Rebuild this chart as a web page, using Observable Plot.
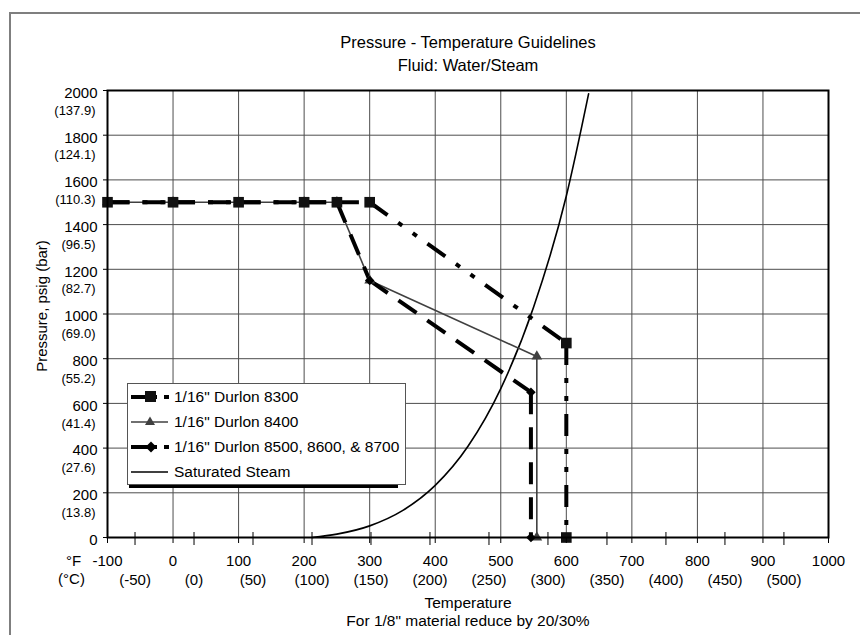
<!DOCTYPE html>
<html><head><meta charset="utf-8">
<script src="https://cdn.jsdelivr.net/npm/d3@7"></script>
<script src="https://cdn.jsdelivr.net/npm/@observablehq/plot@0.6"></script>
<style>
body{margin:0;background:#fff;overflow:hidden}
#wrap{position:relative;width:860px;height:635px;font-family:"Liberation Sans",Arial,sans-serif;overflow:hidden}
#wrap svg{position:absolute;left:0;top:0}
#border{position:absolute;left:9px;top:12px;width:900px;height:700px;border-left:2px solid #7f7f7f;border-top:2px solid #7f7f7f}
#legend{position:absolute;left:127px;top:383px;width:277px;height:100px;border:1px solid #555;background:#fff}
#legshadow{position:absolute;left:129px;top:485px;width:269px;height:3px;background:#000}
.row{position:absolute;left:3px;height:20px;display:flex;align-items:center;font-size:15.5px;white-space:nowrap;color:#000}
.row svg{position:static !important;margin-right:1px;flex:none}
</style></head>
<body>
<div id="wrap"></div>
<script>
// ---- data ----
const fTicks = [-100, 0, 100, 200, 300, 400, 500, 600, 700, 800, 900, 1000];
const cTicks = [-50, 0, 50, 100, 150, 200, 250, 300, 350, 400, 450, 500];
const psiTicks = [0, 200, 400, 600, 800, 1000, 1200, 1400, 1600, 1800, 2000];
const barLabels = ["", "(13.8)", "(27.6)", "(41.4)", "(55.2)", "(69.0)", "(82.7)", "(96.5)", "(110.3)", "(124.1)", "(137.9)"];

const t8300 = [-100, 0, 100, 200, 250, 300, 600, 600];
const p8300 = [1500, 1500, 1500, 1500, 1500, 1500, 870, 0];
const t8400 = [-100, 0, 100, 200, 250, 300, 555, 555];
const p8400 = [1500, 1500, 1500, 1500, 1500, 1150, 810, 0];
const t8500 = [-100, 0, 100, 200, 250, 300, 546, 546];
const p8500 = [1500, 1500, 1500, 1500, 1500, 1150, 650, 0];
const tSteam = [212, 250, 300, 350, 400, 450, 500, 550, 600, 634];
const pSteam = [0, 15, 52, 120, 233, 408, 666, 1030, 1528, 1985];

const legendLabels = ['1/16" Durlon 8300', '1/16" Durlon 8400', '1/16" Durlon 8500, 8600, & 8700', 'Saturated Steam'];
const titleLines = ["Pressure - Temperature Guidelines", "Fluid: Water/Steam"];
const xTitleLines = ["Temperature", 'For 1/8" material reduce by 20/30%'];
const yTitle = "Pressure, psig (bar)";

// ---- build ----
const xy = (ts, ps) => ts.map((t, i) => ({t, p: ps[i]}));
const s8300 = xy(t8300, p8300), s8400 = xy(t8400, p8400), s8500 = xy(t8500, p8500), steam = xy(tSteam, pSteam);
const c2f = c => c * 1.8 + 32;
// each segment drawn on its own so the dash pattern restarts at every point
const seg = (s, opts) => Plot.link(d3.pairs(s), {x1: d => d[0].t, y1: d => d[0].p, x2: d => d[1].t, y2: d => d[1].p, ...opts});

const chart = Plot.plot({
  width: 860, height: 635,
  marginLeft: 107, marginRight: 32, marginTop: 90, marginBottom: 98,
  x: {domain: [-100, 1000]},
  y: {domain: [0, 2000]},
  style: {fontFamily: '"Liberation Sans", Arial, sans-serif', fontSize: "15px", color: "#000", background: "transparent"},
  marks: [
    Plot.gridX(fTicks, {stroke: "#4d4d4d", strokeOpacity: 1}),
    Plot.gridY(psiTicks, {stroke: "#4d4d4d", strokeOpacity: 1}),
    Plot.line(steam, {x: "t", y: "p", stroke: "#000", strokeWidth: 1.6, curve: "monotone-x"}),
    seg(s8400, {stroke: "#404040", strokeWidth: 1.6}),
    seg(s8500, {stroke: "#000", strokeWidth: 4, strokeDasharray: "22,13"}),
    seg(s8300, {stroke: "#000", strokeWidth: 4, strokeDasharray: "22,13,5,13,5,13"}),
    Plot.dot(s8400, {x: "t", y: "p", symbol: "triangle", r: 4, fill: "#404040", stroke: "none"}),
    Plot.dot(s8500, {x: "t", y: "p", symbol: "diamond2", r: 4.3, fill: "#000", stroke: "none"}),
    Plot.dot(s8300, {x: "t", y: "p", symbol: "square", r: 6, fill: "#111", stroke: "none"}),
    Plot.frame({stroke: "#000", strokeWidth: 2}),
    Plot.axisX(fTicks, {tickSize: 6, tickPadding: 12, fontSize: 15, tickFormat: d => String(d), label: null}),
    Plot.ruleX(cTicks, {x: c2f, y1: 0, y2: 0, insetTop: -5, insetBottom: -8, stroke: "#000"}),
    Plot.text(cTicks, {x: c2f, text: c => `(${c})`, frameAnchor: "bottom", lineAnchor: "top", dy: 37, fontSize: 15}),
    Plot.axisY(psiTicks, {tickSize: 4, tickFormat: () => "", label: null}),
    Plot.text(psiTicks, {y: d => d, text: d => String(d), frameAnchor: "left", textAnchor: "end", dx: -10, dy: 2.5, fontSize: 15}),
    Plot.text(psiTicks, {y: d => d, text: (d, i) => barLabels[i], frameAnchor: "left", textAnchor: "end", dx: -12, dy: 20, fontSize: 13}),
    Plot.text(["°F"], {text: d => d, frameAnchor: "bottom-left", textAnchor: "middle", lineAnchor: "middle", dx: -34, dy: 24, fontSize: 15}),
    Plot.text(["(°C)"], {text: d => d, frameAnchor: "bottom-left", textAnchor: "middle", lineAnchor: "middle", dx: -36, dy: 42, fontSize: 15}),
    Plot.text([yTitle], {text: d => d, frameAnchor: "left", textAnchor: "middle", lineAnchor: "middle", rotate: -90, dx: -65, dy: -8, fontSize: 15}),
    Plot.text([titleLines[0]], {text: d => d, frameAnchor: "top", lineAnchor: "middle", dy: -48, fontSize: 16.5}),
    Plot.text([titleLines[1]], {text: d => d, frameAnchor: "top", lineAnchor: "middle", dy: -25, fontSize: 16.5}),
    Plot.text([xTitleLines[0]], {text: d => d, frameAnchor: "bottom", lineAnchor: "middle", dy: 66, fontSize: 15.5}),
    Plot.text([xTitleLines[1]], {text: d => d, frameAnchor: "bottom", lineAnchor: "middle", dy: 84, fontSize: 15.5})
  ]
});

const wrap = document.getElementById("wrap");
wrap.appendChild(chart);
const border = document.createElement("div"); border.id = "border"; wrap.appendChild(border);
const shadow = document.createElement("div"); shadow.id = "legshadow"; wrap.appendChild(shadow);
const legend = document.createElement("div"); legend.id = "legend"; wrap.appendChild(legend);

const samples = [
  `<line x1="0" y1="10" x2="39" y2="10" stroke="#000" stroke-width="4" stroke-dasharray="26,7,5"/><rect x="14" y="4" width="11" height="11" fill="#111"/>`,
  `<line x1="0" y1="10" x2="37" y2="10" stroke="#404040" stroke-width="1.6"/><path d="M19,4.5 L24,13 L14,13 Z" fill="#404040"/>`,
  `<line x1="0" y1="10" x2="39" y2="10" stroke="#000" stroke-width="4" stroke-dasharray="26,7,5"/><path d="M20,4.5 L25.5,10 L20,15.5 L14.5,10 Z" fill="#000"/>`,
  `<line x1="0" y1="10" x2="37" y2="10" stroke="#000" stroke-width="1.6"/>`
];
legendLabels.forEach((lab, i) => {
  const row = document.createElement("div");
  row.className = "row";
  row.style.top = (3.3 + i * 25) + "px";
  row.innerHTML = `<svg width="42" height="20" viewBox="0 0 42 20">${samples[i]}</svg>`;
  const span = document.createElement("span");
  span.textContent = lab;
  row.appendChild(span);
  legend.appendChild(row);
});
</script>
</body></html>
